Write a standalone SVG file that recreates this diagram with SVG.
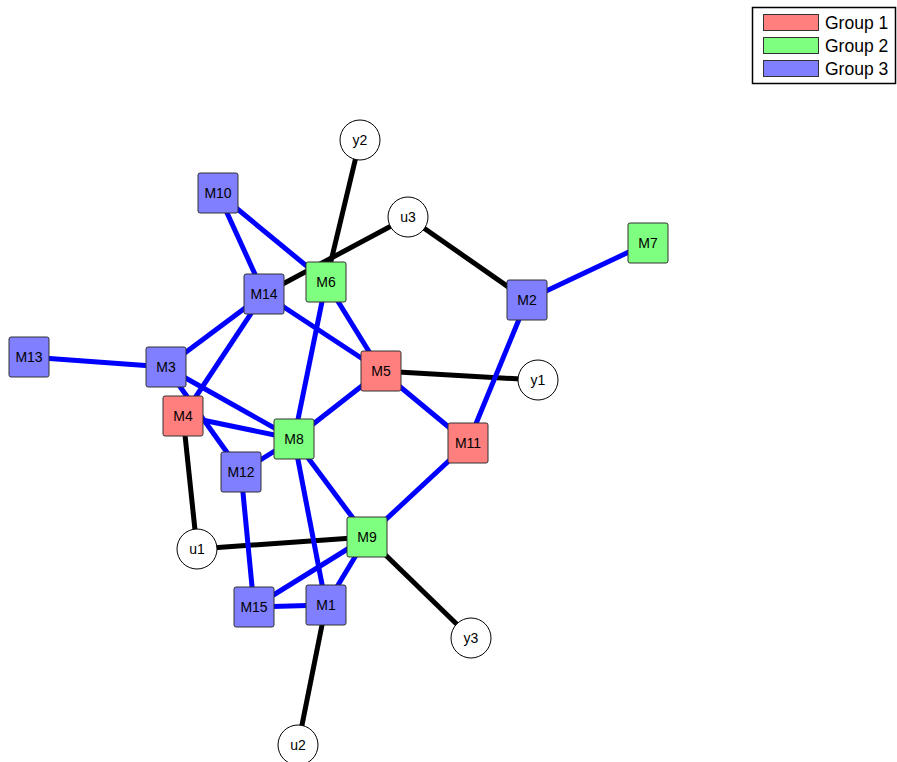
<svg xmlns="http://www.w3.org/2000/svg" width="897" height="762" viewBox="0 0 897 762">
  <style>
    text { font-family: "Liberation Sans", Arial, sans-serif; fill: #000; }
    .lbl { font-size: 14px; text-anchor: middle; dominant-baseline: central; }
    .leg { font-size: 17.5px; dominant-baseline: central; }
    .e { stroke-width: 5; stroke-linecap: butt; fill: none; }
    .b { stroke: #0000ff; }
    .k { stroke: #000; }
    .box { stroke: #333; stroke-width: 1; }
    .g1 { fill: #ff7f7f; }
    .g2 { fill: #7fff7f; }
    .g3 { fill: #7f7fff; }
    .io { fill: #fff; stroke: #000; stroke-width: 1; }
  </style>
  <defs>
    <rect id="sq" x="-20" y="-20" width="40" height="40" rx="2" ry="2"/>
  </defs>
  <rect width="897" height="762" fill="#fff"/>

  <!-- connectors -->
  <g id="edges">
    <line class="e k" x1="360" y1="140" x2="326" y2="282"/>
    <line class="e k" x1="408" y1="217" x2="264" y2="294"/>
    <line class="e k" x1="408" y1="217" x2="527" y2="300"/>
    <line class="e k" x1="381" y1="371" x2="538" y2="380"/>
    <line class="e k" x1="183" y1="416" x2="197" y2="549"/>
    <line class="e k" x1="197" y1="549" x2="367" y2="537"/>
    <line class="e k" x1="367" y1="537" x2="471" y2="638"/>
    <line class="e k" x1="326" y1="605" x2="298" y2="745"/>

    <line class="e b" x1="218" y1="193" x2="264" y2="294"/>
    <line class="e b" x1="218" y1="193" x2="326" y2="282"/>
    <line class="e b" x1="264" y1="294" x2="381" y2="371"/>
    <line class="e b" x1="264" y1="294" x2="166" y2="367"/>
    <line class="e b" x1="264" y1="294" x2="183" y2="416"/>
    <line class="e b" x1="326" y1="282" x2="294" y2="439"/>
    <line class="e b" x1="326" y1="282" x2="381" y2="371"/>
    <line class="e b" x1="29" y1="357" x2="166" y2="367"/>
    <line class="e b" x1="166" y1="367" x2="294" y2="439"/>
    <line class="e b" x1="166" y1="367" x2="241" y2="472"/>
    <line class="e b" x1="183" y1="416" x2="294" y2="439"/>
    <line class="e b" x1="241" y1="472" x2="294" y2="439"/>
    <line class="e b" x1="241" y1="472" x2="254" y2="607"/>
    <line class="e b" x1="294" y1="439" x2="381" y2="371"/>
    <line class="e b" x1="294" y1="439" x2="326" y2="605"/>
    <line class="e b" x1="294" y1="439" x2="367" y2="537"/>
    <line class="e b" x1="381" y1="371" x2="468" y2="443"/>
    <line class="e b" x1="468" y1="443" x2="527" y2="300"/>
    <line class="e b" x1="468" y1="443" x2="367" y2="537"/>
    <line class="e b" x1="527" y1="300" x2="648" y2="243"/>
    <line class="e b" x1="367" y1="537" x2="254" y2="607"/>
    <line class="e b" x1="367" y1="537" x2="326" y2="605"/>
    <line class="e b" x1="254" y1="607" x2="326" y2="605"/>
  </g>

  <!-- module nodes -->
  <g id="M1" transform="translate(326,605)"><use href="#sq" class="box g3"/><text class="lbl">M1</text></g>
  <g id="M2" transform="translate(527,300)"><use href="#sq" class="box g3"/><text class="lbl">M2</text></g>
  <g id="M3" transform="translate(166,367)"><use href="#sq" class="box g3"/><text class="lbl">M3</text></g>
  <g id="M4" transform="translate(183,416)"><use href="#sq" class="box g1"/><text class="lbl">M4</text></g>
  <g id="M5" transform="translate(381,371)"><use href="#sq" class="box g1"/><text class="lbl">M5</text></g>
  <g id="M6" transform="translate(326,282)"><use href="#sq" class="box g2"/><text class="lbl">M6</text></g>
  <g id="M7" transform="translate(648,243)"><use href="#sq" class="box g2"/><text class="lbl">M7</text></g>
  <g id="M8" transform="translate(294,439)"><use href="#sq" class="box g2"/><text class="lbl">M8</text></g>
  <g id="M9" transform="translate(367,537)"><use href="#sq" class="box g2"/><text class="lbl">M9</text></g>
  <g id="M10" transform="translate(218,193)"><use href="#sq" class="box g3"/><text class="lbl">M10</text></g>
  <g id="M11" transform="translate(468,443)"><use href="#sq" class="box g1"/><text class="lbl">M11</text></g>
  <g id="M12" transform="translate(241,472)"><use href="#sq" class="box g3"/><text class="lbl">M12</text></g>
  <g id="M13" transform="translate(29,357)"><use href="#sq" class="box g3"/><text class="lbl">M13</text></g>
  <g id="M14" transform="translate(264,294)"><use href="#sq" class="box g3"/><text class="lbl">M14</text></g>
  <g id="M15" transform="translate(254,607)"><use href="#sq" class="box g3"/><text class="lbl">M15</text></g>

  <!-- input / output nodes -->
  <g id="y1" transform="translate(538,380)"><circle r="20" class="io"/><text class="lbl">y1</text></g>
  <g id="y2" transform="translate(360,140)"><circle r="20" class="io"/><text class="lbl">y2</text></g>
  <g id="y3" transform="translate(471,638)"><circle r="20" class="io"/><text class="lbl">y3</text></g>
  <g id="u1" transform="translate(197,549)"><circle r="20" class="io"/><text class="lbl">u1</text></g>
  <g id="u2" transform="translate(298,745)"><circle r="20" class="io"/><text class="lbl">u2</text></g>
  <g id="u3" transform="translate(408,217)"><circle r="20" class="io"/><text class="lbl">u3</text></g>

  <!-- legend -->
  <g id="legend">
    <rect x="752.5" y="7.5" width="143" height="76" fill="#fff" stroke="#000" stroke-width="1.5"/>
    <rect x="763.5" y="14.5" width="55" height="16" class="box g1"/>
    <text class="leg" x="825" y="23">Group 1</text>
    <rect x="763.5" y="37.5" width="55" height="16" class="box g2"/>
    <text class="leg" x="825" y="46">Group 2</text>
    <rect x="763.5" y="60.5" width="55" height="16" class="box g3"/>
    <text class="leg" x="825" y="69">Group 3</text>
  </g>
</svg>
